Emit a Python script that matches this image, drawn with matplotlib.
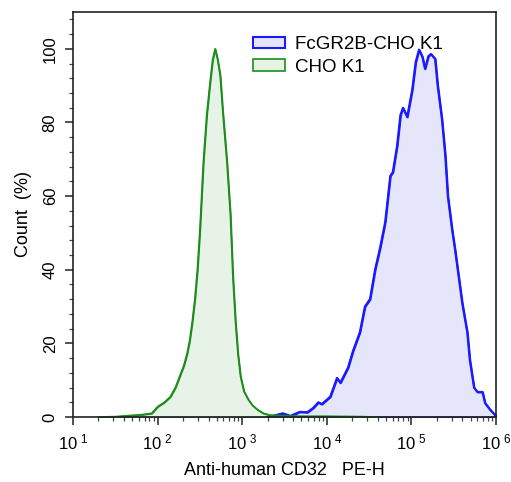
import matplotlib
matplotlib.use("Agg")
import matplotlib.pyplot as plt
import numpy as np
from matplotlib.ticker import FixedLocator, LogLocator, NullFormatter

plt.rcParams["font.family"] = ["Liberation Sans", "DejaVu Sans"]
plt.rcParams["mathtext.fontset"] = "custom"
plt.rcParams["mathtext.rm"] = "Liberation Sans"

# log10 of intensity, and count (%)
cho_log = [1.30, 1.50, 1.67, 1.80, 1.93, 2.00, 2.08, 2.15, 2.21, 2.26, 2.31,
           2.35, 2.38, 2.41, 2.44, 2.47, 2.50, 2.54, 2.58, 2.62, 2.65, 2.68,
           2.71, 2.74, 2.77, 2.82, 2.86, 2.89, 2.92, 2.95, 2.98, 3.02, 3.07,
           3.12, 3.18, 3.25, 3.33, 3.50, 3.70, 4.00, 4.40, 4.60]
cho_cnt = [0.0, 0.1, 0.4, 0.6, 1.0, 2.8, 4.0, 5.5, 8.0, 11.0, 14.0,
           17.4, 21.0, 26.0, 32.0, 40.0, 51.0, 69.0, 82.0, 91.0, 97.0, 100.0,
           97.0, 92.6, 83.0, 69.0, 55.0, 38.0, 26.0, 17.0, 11.0, 7.0, 4.8,
           3.2, 2.0, 1.0, 0.5, 0.3, 0.2, 0.2, 0.1, 0.0]

fcg_log = [3.30, 3.36, 3.48, 3.57, 3.68, 3.77, 3.84, 3.90, 3.94, 4.04, 4.12,
           4.16, 4.25, 4.31, 4.39, 4.45, 4.51, 4.57, 4.63, 4.69, 4.75, 4.78,
           4.83, 4.87, 4.90, 4.95, 5.01, 5.05, 5.09, 5.13, 5.16, 5.20, 5.23,
           5.28, 5.31, 5.36, 5.40, 5.43, 5.48, 5.52, 5.60, 5.66, 5.69, 5.74,
           5.78, 5.84, 5.87, 5.93, 6.00]
fcg_cnt = [0.0, 0.3, 1.0, 0.3, 1.4, 1.3, 2.5, 4.0, 3.5, 5.5, 10.6,
           9.3, 13.4, 18.0, 23.0, 30.0, 32.0, 40.0, 46.0, 53.0, 65.5, 66.5,
           73.6, 82.0, 84.0, 81.5, 89.0, 96.4, 99.8, 97.8, 94.6, 98.0, 98.6,
           97.3, 90.0, 81.0, 71.0, 60.0, 51.0, 44.7, 31.0, 23.0, 15.5, 8.0,
           6.8, 6.8, 3.8, 2.0, 0.3]

labels = ["FcGR2B-CHO K1", "CHO K1"]
decades = [1, 2, 3, 4, 5, 6]
yticks = [0, 20, 40, 60, 80, 100]

fig = plt.figure(figsize=(5.11, 4.82), dpi=100)
ax = fig.add_axes([0.1429, 0.1349, 0.8277, 0.8402])

x_fcg = np.power(10.0, fcg_log)
x_cho = np.power(10.0, cho_log)

ax.fill_between(x_fcg, fcg_cnt, color="#e6e6fb", edgecolor="#1a1aff",
                linewidth=1.5, label=labels[0])
ax.fill_between(x_cho, cho_cnt, color="#e8f3e8", edgecolor="#1e8c1e",
                linewidth=1.2, label=labels[1])
ax.plot(x_fcg, fcg_cnt, color="#1a1aff", lw=1.5)
ax.plot(x_cho, cho_cnt, color="#1e8c1e", lw=1.2)

ax.set_xscale("log")
ax.set_xlim(10, 1e6)
ax.set_ylim(0, 110)

ax.set_xticks([10.0 ** d for d in decades])
ax.set_xticklabels([r"$\mathregular{10^{\ %d}}$" % d for d in decades], fontsize=12)
ax.xaxis.set_minor_locator(LogLocator(base=10, subs=np.arange(2, 10)))
ax.xaxis.set_minor_formatter(NullFormatter())

ax.set_yticks(yticks)
ax.set_yticklabels([str(v) for v in yticks], rotation=90, va="center", fontsize=12)
ax.yaxis.set_minor_locator(FixedLocator(np.arange(0, 110, 4)))

ax.tick_params(which="major", direction="out", length=6, width=1.1, color="#222222")
ax.tick_params(which="minor", direction="out", length=3, width=0.9, color="#444444")
ax.tick_params(axis="x", pad=5)
ax.tick_params(axis="y", pad=5)

for s in ax.spines.values():
    s.set_color("#222222")
    s.set_linewidth(1.2)

ax.set_xlabel("Anti-human CD32   PE-H", fontsize=13, labelpad=7)
ax.set_ylabel("Count  (%)", fontsize=13, labelpad=8)

ax.legend(loc="upper left", bbox_to_anchor=(0.425, 0.94), frameon=False,
          fontsize=13.5, handlelength=1.7, handleheight=0.55,
          handletextpad=0.55, labelspacing=0.28, borderpad=0, borderaxespad=0)

fig.savefig("out.png", dpi=100)
